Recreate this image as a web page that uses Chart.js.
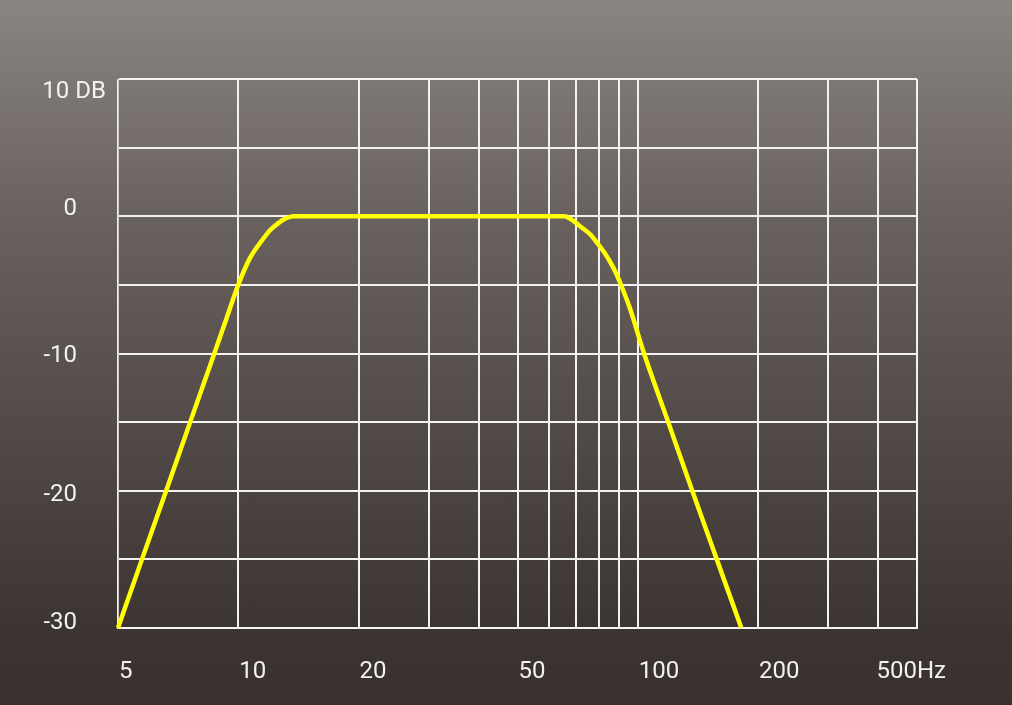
<!DOCTYPE html>
<html>
<head>
<meta charset="utf-8">
<script src="https://cdn.jsdelivr.net/npm/chart.js@4/dist/chart.umd.min.js"></script>
<style>
  html, body {
    margin: 0;
    padding: 0;
    width: 1012px;
    height: 705px;
    overflow: hidden;
    background: linear-gradient(to bottom, #8a8581 0%, #6a625e 30%, #4f4743 65%, #3c3431 90%, #3a312e 100%);
  }
  #wrap { position: relative; width: 1012px; height: 705px; }
  canvas { display: block; }
</style>
</head>
<body>
<div id="wrap"><canvas id="responseChart" width="1012" height="705"></canvas></div>
<script>
// ========================================
// DATA
// ========================================
const freqHz = [5, 5.74, 6.6, 7.58, 8.71, 9.33, 10.0, 10.72, 11.47, 12.03, 12.6, 13.12, 13.74,
  65.4, 68.7, 72.1, 76.4, 79.4, 82.5, 85.7, 88.3, 90.8, 95.3, 103.7, 119.2, 136.9, 157.7, 181.7];
const gainDb = [-30, -25, -20, -15, -10, -7.5, -5, -3, -1.75, -1, -0.5, -0.17, 0,
  0, -0.3, -0.78, -1.38, -2, -2.64, -3.44, -4.17, -5, -6.6, -10, -15, -20, -25, -30];

const gridFreqs = [5, 10, 20, 30, 40, 50, 60, 70, 80, 90, 100, 200, 300, 400, 500];
const freqLabels = [5, 10, 20, 50, 100, 200, 500];
const freqUnit = "Hz";
const dbLabels = [10, 0, -10, -20, -30];
const dbUnit = " DB";

const points = freqHz.map((f, i) => ({ x: f, y: gainDb[i] }));

// ========================================
// AXIS LABELS (drawn per label, like the original)
// ========================================
const axisLabels = {
  id: "axisLabels",
  afterDraw(chart) {
    const { ctx, chartArea, scales } = chart;
    ctx.save();
    ctx.font = "24px Roboto";
    ctx.fillStyle = "#f2f2f2";
    ctx.textBaseline = "middle";

    // x labels: text starts at its grid line, last one ends there (unit trails)
    const xLabelY = chartArea.bottom + 44;
    freqLabels.forEach((v, i) => {
      const px = scales.x.getPixelForValue(v);
      const last = i === freqLabels.length - 1;
      ctx.textAlign = "left";
      if (last) {
        const w = ctx.measureText(String(v)).width;
        ctx.fillText(v + freqUnit, px - w, xLabelY);
      } else {
        ctx.fillText(String(v), px + 1, xLabelY);
      }
    });

    // y labels, each nudged the way the original sits
    const nudge = [13, -7, 2, 4, -5];
    ctx.textAlign = "right";
    dbLabels.forEach((v, i) => {
      const py = scales.y.getPixelForValue(v) + nudge[i];
      if (i === 0) {
        ctx.fillText(v + dbUnit, chartArea.left - 12, py);
      } else {
        ctx.fillText(String(v), chartArea.left - 41, py);
      }
    });
    ctx.restore();
  },
};

// ========================================
// CHART
// ========================================
new Chart(document.getElementById("responseChart"), {
  type: "line",
  data: {
    datasets: [
      {
        data: points,
        borderColor: "#ffff00",
        borderWidth: 4.5,
        pointRadius: 0,
        cubicInterpolationMode: "monotone",
        fill: false,
        clip: false,
      },
    ],
  },
  options: {
    responsive: false,
    animation: false,
    devicePixelRatio: 1,
    layout: { padding: { left: 118, top: 79, right: 95, bottom: 77 } },
    plugins: { legend: { display: false }, tooltip: { enabled: false } },
    scales: {
      x: {
        type: "logarithmic",
        min: 5,
        max: 500,
        afterBuildTicks: (scale) => {
          scale.ticks = gridFreqs.map((v) => ({ value: v }));
        },
        ticks: { display: false },
        grid: { color: "#f2f2f2", lineWidth: 2, drawTicks: false },
        border: { color: "#f5f5f5", width: 2 },
      },
      y: {
        min: -30,
        max: 10,
        ticks: { display: false, stepSize: 5 },
        grid: { color: "#f2f2f2", lineWidth: 2, drawTicks: false },
        border: { color: "#c9c6c4", width: 1 },
      },
    },
  },
  plugins: [axisLabels],
});
</script>
</body>
</html>
